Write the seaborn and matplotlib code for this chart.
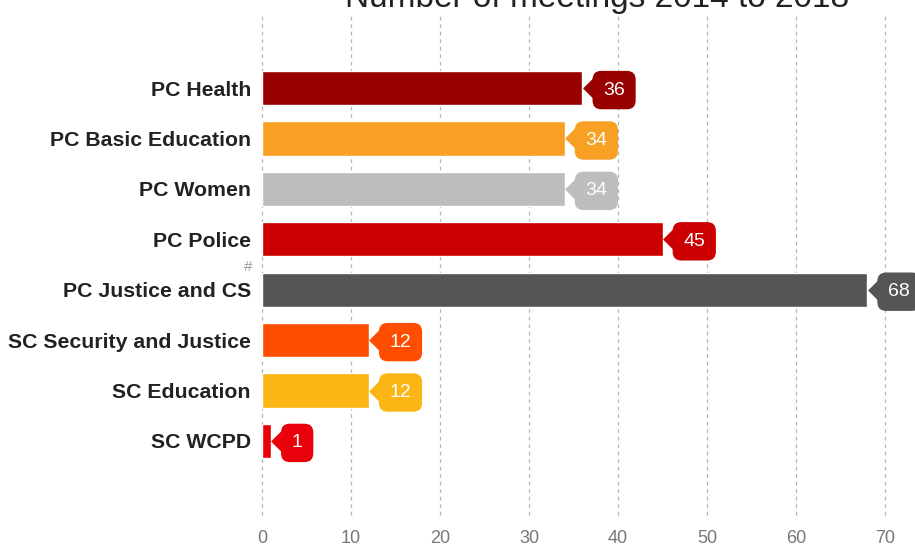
import matplotlib
matplotlib.use("Agg")
import matplotlib.pyplot as plt
import matplotlib.transforms as mtransforms
from matplotlib.path import Path
import seaborn as sns
import pandas as pd

categories = ["PC Health", "PC Basic Education", "PC Women", "PC Police",
              "PC Justice and CS", "SC Security and Justice", "SC Education", "SC WCPD"]
meetings = [36, 34, 34, 45, 68, 12, 12, 1]
colors = ["#990000", "#F7A024", "#BDBDBD", "#CC0000",
          "#555555", "#FF4E00", "#FBB514", "#E8000B"]
x_ticks = [0, 10, 20, 30, 40, 50, 60, 70]
title = "Number of meetings 2014 to 2018"

sns.set_theme(style="white")
plt.rcParams["font.family"] = ["Liberation Sans", "DejaVu Sans"]

df = pd.DataFrame({"category": categories, "meetings": meetings})

fig = plt.figure(figsize=(9.15, 5.46), dpi=100)
ax = fig.add_axes([262 / 915, 1 - 515 / 546, (885 - 262) / 915, 500 / 546])

sns.barplot(data=df, y="category", x="meetings", hue="category",
            palette=dict(zip(categories, colors)), orient="h",
            width=0.68, legend=False, ax=ax, saturation=1)

ax.set_xlim(0, 70)
ax.set_ylim(8.47, -1.45)
ax.set_xticks(x_ticks)
ax.set_xlabel("")
ax.set_ylabel("")
for s in ax.spines.values():
    s.set_visible(False)
ax.grid(False)
for t in x_ticks:
    ax.axvline(t, color="#B5B5B5", lw=0.9, ls=(0, (3, 3)), zorder=0, clip_on=False)
ax.tick_params(axis="x", length=0, pad=11, labelsize=13, labelcolor="#777777")
ax.tick_params(axis="y", length=0, pad=8, labelsize=15.3, labelcolor="#222222")
for lab in ax.get_yticklabels():
    lab.set_fontweight("bold")

# callout labels: rounded box + left-pointing triangle
tri = Path([(-1, 0), (0, 1), (0, -1), (-1, 0)],
           [Path.MOVETO, Path.LINETO, Path.LINETO, Path.CLOSEPOLY])
shift = mtransforms.ScaledTranslation(7.5 / 72, 0, fig.dpi_scale_trans)
for i, (v, c) in enumerate(zip(meetings, colors)):
    ax.annotate(str(v), xy=(v, i), xytext=(15, 0), textcoords="offset points",
                ha="left", va="center_baseline", color="white", fontsize=14,
                annotation_clip=False, zorder=5,
                bbox=dict(boxstyle="round,pad=0.55,rounding_size=0.45", fc=c, ec="none"))
    ax.plot([v], [i], marker=tri, markersize=15, color=c, clip_on=False, zorder=5,
            markeredgewidth=0, transform=ax.transData + shift)

ax.text(-1.6, 3.55, "#", ha="center", va="center", fontsize=11, color="#999999")

fig.text(597 / 915, 1 - 7 / 546, title, ha="center", va="baseline",
         fontsize=24, color="#222222")

fig.savefig("out.png", dpi=100)
